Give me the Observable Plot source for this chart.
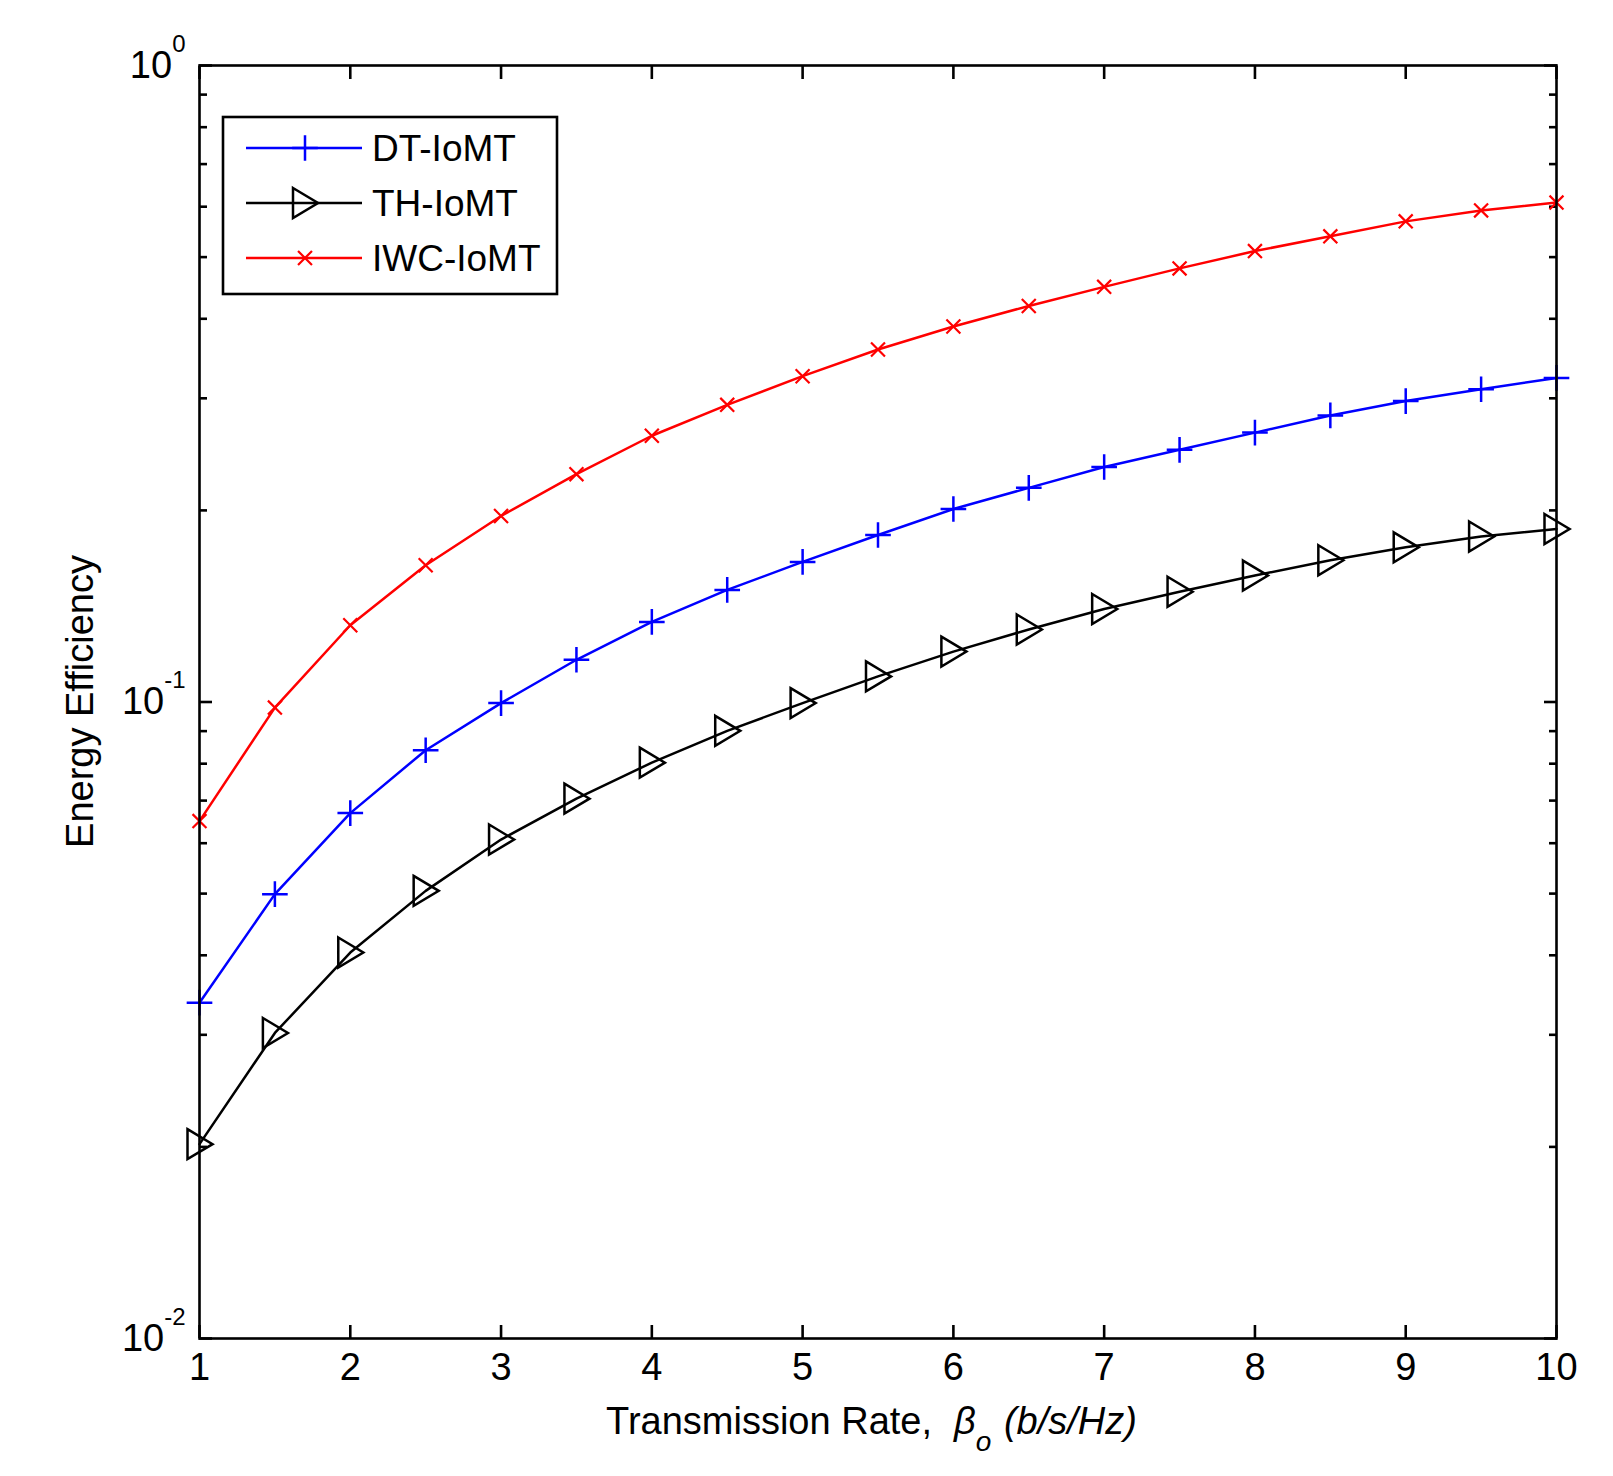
<!DOCTYPE html>
<html>
<head>
<meta charset="utf-8">
<script src="https://cdn.jsdelivr.net/npm/d3@7"></script>
<script src="https://cdn.jsdelivr.net/npm/@observablehq/plot@0.6"></script>
<style>
  html, body { margin: 0; padding: 0; background: #ffffff; }
  #chart svg { display: block; }
</style>
</head>
<body>
<div id="chart"></div>
<script>
// ---------- data ----------
const rate = [1, 1.5, 2, 2.5, 3, 3.5, 4, 4.5, 5, 5.5, 6, 6.5, 7, 7.5, 8, 8.5, 9, 9.5, 10];
const dtIoMT  = [0.0337, 0.0499, 0.0669, 0.0840, 0.0996, 0.1165, 0.1336, 0.150, 0.166, 0.183, 0.201, 0.217, 0.234, 0.249, 0.265, 0.282, 0.297, 0.310, 0.323];
const thIoMT  = [0.0202, 0.0302, 0.0404, 0.0505, 0.0608, 0.0705, 0.0803, 0.0901, 0.0996, 0.1097, 0.120, 0.130, 0.140, 0.149, 0.158, 0.167, 0.175, 0.182, 0.187];
const iwcIoMT = [0.065, 0.098, 0.132, 0.164, 0.196, 0.228, 0.262, 0.293, 0.325, 0.358, 0.389, 0.419, 0.449, 0.480, 0.511, 0.539, 0.569, 0.592, 0.609];

const seriesNames = ["DT-IoMT", "TH-IoMT", "IWC-IoMT"];
const seriesColors = ["#0000ff", "#000000", "#ff0000"];

const xTicks = [1, 2, 3, 4, 5, 6, 7, 8, 9, 10];
const yMajorTicks = [0.01, 0.1, 1];
const yMajorLabels = ["10^-2", "10^-1", "10^0"];
const yMinorTicks = [0.02, 0.03, 0.04, 0.05, 0.06, 0.07, 0.08, 0.09, 0.2, 0.3, 0.4, 0.5, 0.6, 0.7, 0.8, 0.9];

const xLabelMain = "Transmission Rate,";
const xLabelSym = "β";
const xLabelSub = "o";
const xLabelUnit = " (b/s/Hz)";
const yLabel = "Energy Efficiency";

// ---------- table ----------
const table = [];
[dtIoMT, thIoMT, iwcIoMT].forEach((vals, s) => {
  vals.forEach((v, i) => table.push({x: rate[i], y: v, series: seriesNames[s]}));
});

// right-pointing triangle (MATLAB '>' marker)
const triRight = {
  draw(context, size) {
    const r = Math.sqrt(size / Math.PI);
    context.moveTo(-0.8 * r, -r);
    context.lineTo(0.87 * r, 0);
    context.lineTo(-0.8 * r, r);
    context.closePath();
  }
};

const FONT = "'Liberation Sans', Arial, Helvetica, sans-serif";
const FS = 38;
const AX = 2.6;

const lineOf = (name, color) => Plot.line(table.filter(d => d.series === name), {x: "x", y: "y", stroke: color, strokeWidth: 2.5});

const plot = Plot.plot({
  width: 1613,
  height: 1476,
  marginLeft: 199,
  marginRight: 57,
  marginTop: 65,
  marginBottom: 138,
  x: {domain: [1, 10]},
  y: {type: "log", domain: [0.01, 1]},
  style: {fontFamily: FONT, fontSize: FS + "px", background: "#ffffff", color: "#000000"},
  marks: [
    // inward ticks on all four sides
    Plot.axisX(xTicks, {anchor: "bottom", tickSize: -13, strokeWidth: AX, fill: "none", label: null}),
    Plot.axisX(xTicks, {anchor: "top", tickSize: -13, strokeWidth: AX, fill: "none", label: null}),
    Plot.axisY(yMajorTicks, {anchor: "left", tickSize: -13, strokeWidth: AX, fill: "none", label: null}),
    Plot.axisY(yMajorTicks, {anchor: "right", tickSize: -13, strokeWidth: AX, fill: "none", label: null}),
    Plot.axisY(yMinorTicks, {anchor: "left", tickSize: -8, strokeWidth: AX, fill: "none", label: null}),
    Plot.axisY(yMinorTicks, {anchor: "right", tickSize: -8, strokeWidth: AX, fill: "none", label: null}),
    // tick labels
    Plot.axisX(xTicks, {anchor: "bottom", tickSize: 0, tickPadding: 15, label: null, tickFormat: d => String(d)}),
    Plot.axisY(yMajorTicks, {anchor: "left", tickSize: 0, tickPadding: 14, label: null,
      tickFormat: d => yMajorLabels[yMajorTicks.indexOf(d)]}),
    // series
    lineOf("DT-IoMT", seriesColors[0]),
    lineOf("TH-IoMT", seriesColors[1]),
    lineOf("IWC-IoMT", seriesColors[2]),
    Plot.dot(table.filter(d => d.series === "DT-IoMT"), {x: "x", y: "y", symbol: "plus", r: 8.3, stroke: seriesColors[0], strokeWidth: 2.5, fill: "none"}),
    Plot.dot(table.filter(d => d.series === "TH-IoMT"), {x: "x", y: "y", symbol: triRight, r: 15, stroke: seriesColors[1], strokeWidth: 2.5, fill: "none"}),
    Plot.dot(table.filter(d => d.series === "IWC-IoMT"), {x: "x", y: "y", symbol: "times", r: 6.4, stroke: seriesColors[2], strokeWidth: 2.2, fill: "none"}),
    Plot.frame({stroke: "#000000", strokeWidth: AX})
  ]
});

document.getElementById("chart").appendChild(plot);

const svg = d3.select(plot);
const xs = plot.scale("x");
const ys = plot.scale("y");

// superscript exponents on y tick labels
svg.selectAll('g[aria-label="y-axis tick label"] text').each(function () {
  const parts = this.textContent.split("^");
  const t = d3.select(this);
  t.text(null);
  t.append("tspan").text(parts[0]);
  t.append("tspan").attr("dy", -26).attr("font-size", 24).text(parts[1]);
});

// x label
const xMid = (xs.range[0] + xs.range[1]) / 2 - 6;
const xl = svg.append("text")
  .attr("x", xMid).attr("y", 1434)
  .attr("text-anchor", "middle")
  .attr("font-family", FONT).attr("font-size", FS).attr("fill", "#000");
xl.append("tspan").text(xLabelMain);
xl.append("tspan").attr("dx", 22).attr("font-style", "italic").text(xLabelSym);
xl.append("tspan").attr("dy", 17).attr("font-style", "italic").attr("font-size", 28).text(xLabelSub);
xl.append("tspan").attr("dy", -17).attr("dx", 2).attr("font-style", "italic").text(xLabelUnit);

// y label
const yMid = (ys.range[0] + ys.range[1]) / 2;
svg.append("text")
  .attr("transform", `translate(93,${yMid}) rotate(-90)`)
  .attr("text-anchor", "middle")
  .attr("font-family", FONT).attr("font-size", FS).attr("fill", "#000")
  .text(yLabel);

// legend
const lg = svg.append("g").attr("transform", "translate(223,117)");
lg.append("rect").attr("width", 334).attr("height", 177).attr("fill", "#fff").attr("stroke", "#000").attr("stroke-width", AX);
const legendSymbols = [
  d3.symbol(d3.symbolPlus, Math.PI * 8.3 * 8.3),
  d3.symbol(triRight, Math.PI * 15 * 15),
  d3.symbol(d3.symbolTimes, Math.PI * 6.4 * 6.4)
];
const legendStroke = [2.5, 2.5, 2.2];
seriesNames.forEach((name, i) => {
  const row = lg.append("g").attr("transform", `translate(0,${31 + i * 55})`);
  row.append("line").attr("x1", 23).attr("x2", 139).attr("y1", 0).attr("y2", 0)
    .attr("stroke", seriesColors[i]).attr("stroke-width", 2.5);
  row.append("path").attr("d", legendSymbols[i]()).attr("transform", "translate(82,0)")
    .attr("fill", "none").attr("stroke", seriesColors[i]).attr("stroke-width", legendStroke[i]);
  row.append("text").attr("x", 149).attr("y", 0).attr("dy", "0.36em")
    .attr("text-anchor", "start")
    .attr("font-family", FONT).attr("font-size", 37).attr("fill", "#000").text(name);
});
</script>
</body>
</html>
